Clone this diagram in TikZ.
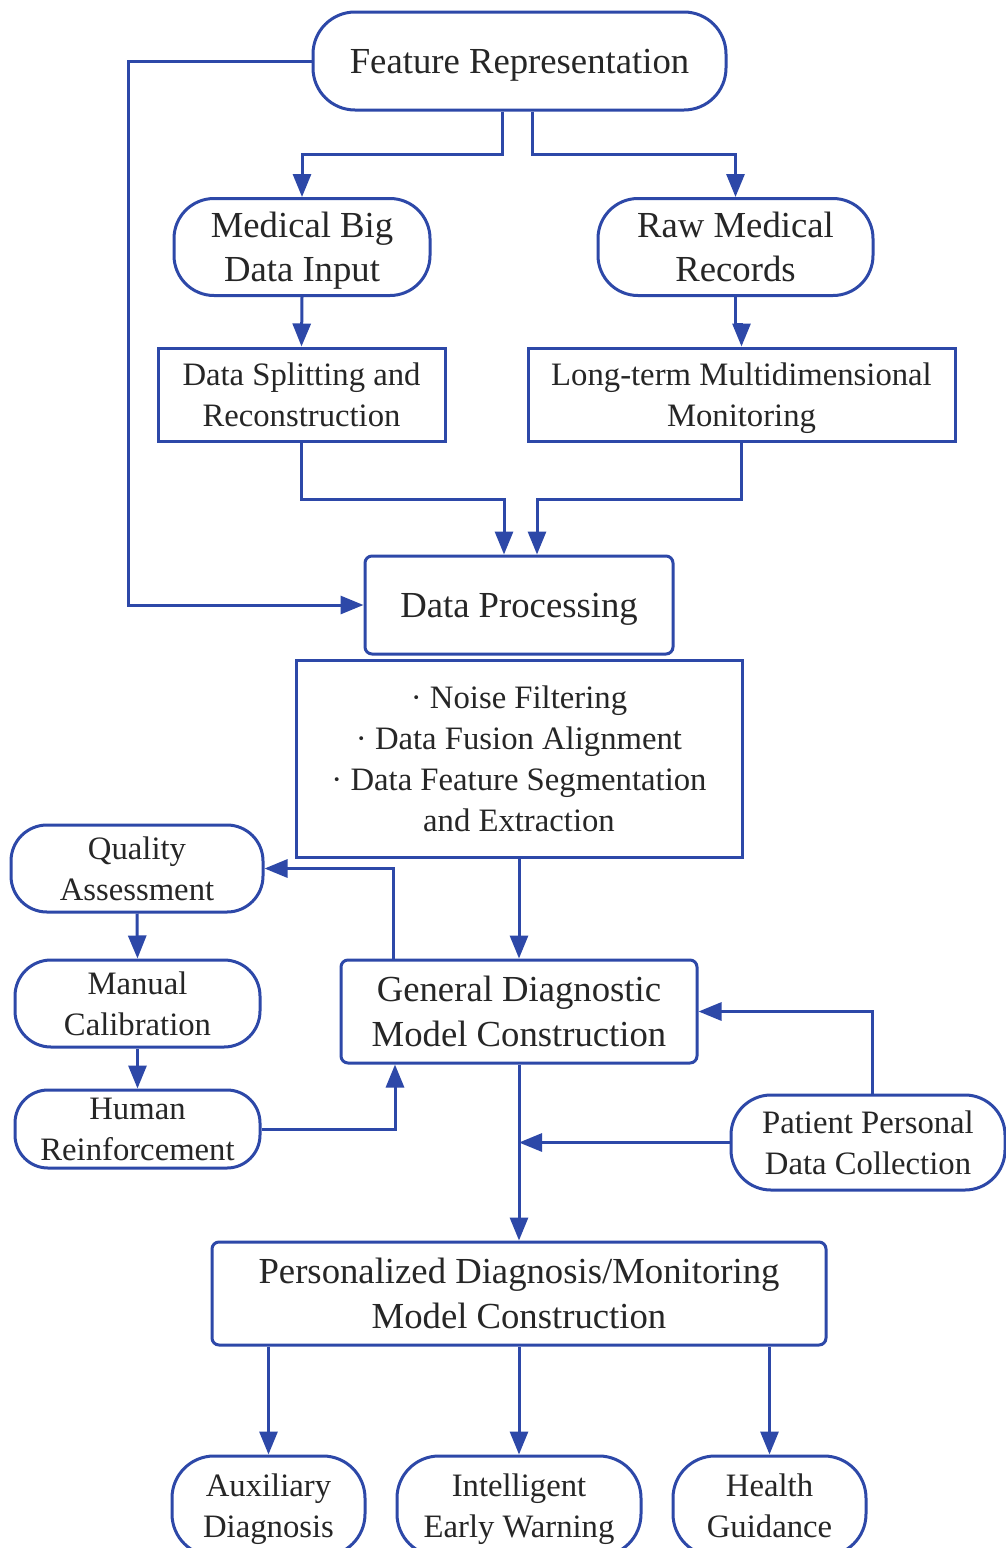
\documentclass[tikz,border=0pt]{standalone}
\usepackage{fontspec}
\setmainfont{Liberation Serif}
\usetikzlibrary{arrows.meta}
\definecolor{lb}{RGB}{45,72,168}
\definecolor{tx}{RGB}{38,38,38}
\begin{document}
\begin{tikzpicture}[x=1pt,y=-1pt,
 base/.style={draw=lb, line width=3pt, text=tx, align=center, inner sep=0pt, fill=white, text depth=0pt},
 big/.style={font=\fontsize{36.7}{44}\selectfont},
 bigw/.style={font=\fontsize{36.7}{45.5}\selectfont},
 small/.style={font=\fontsize{32.7}{41}\selectfont},
 stad/.style={base, rounded corners=#1},
 sq/.style={base},
 rr/.style={base, rounded corners=7pt},
 conn/.style={draw=lb, line width=3pt, -{Triangle[length=23pt,width=18pt]}},
]
\useasboundingbox (0,0) rectangle (1006,1548);
\fill[white] (0,0) rectangle (1006,1548);
\clip (0,0) rectangle (1006,1548);

% nodes
\node[stad=42pt, big, minimum width=413pt, minimum height=98pt] (fr) at (519.5,61) {Feature Representation};
\node[stad=40pt, big, minimum width=256pt, minimum height=97pt] (mb) at (302,247) {Medical Big\\Data Input};
\node[stad=40pt, big, minimum width=275pt, minimum height=97pt] (rmr) at (735.5,247) {Raw Medical\\Records};
\node[sq, small, minimum width=287pt, minimum height=93pt] (ds) at (301.5,394.5) {Data Splitting and\\Reconstruction};
\node[sq, small, minimum width=427pt, minimum height=93pt] (ltm) at (741.5,394.5) {Long-term Multidimensional\\Monitoring};
\node[rr, big, minimum width=308pt, minimum height=98pt] (dp) at (519,605) {Data Processing};
\node[sq, small, minimum width=446pt, minimum height=197pt] (nf) at (519,758.5) {· Noise Filtering\\· Data Fusion Alignment\\· Data Feature Segmentation\\and Extraction};
\node[rr, bigw, minimum width=356pt, minimum height=103pt] (gd) at (519,1011.5) {General Diagnostic\\Model Construction};
\node[stad=36pt, small, minimum width=252pt, minimum height=87pt] (qa) at (137,868.5) {Quality\\Assessment};
\node[stad=36pt, small, minimum width=245pt, minimum height=87pt] (mc) at (137.5,1003.5) {Manual\\Calibration};
\node[stad=33pt, small, minimum width=245pt, minimum height=78pt] (hr) at (137.5,1129) {Human\\Reinforcement};
\node[stad=40pt, small, minimum width=274pt, minimum height=95pt] (pp) at (868,1142.5) {Patient Personal\\Data Collection};
\node[rr, bigw, minimum width=614pt, minimum height=103pt] (pdm) at (519,1293.5) {Personalized Diagnosis/Monitoring\\Model Construction};
\node[stad=42pt, small, minimum width=193pt, minimum height=100pt] (aux) at (268.5,1506) {Auxiliary\\Diagnosis};
\node[stad=42pt, small, minimum width=244pt, minimum height=100pt] (iew) at (519,1506) {Intelligent\\Early Warning};
\node[stad=42pt, small, minimum width=193pt, minimum height=100pt] (hg) at (769.5,1506) {Health\\Guidance};

% connectors
\draw[conn] (fr.west) -- ++(-183,0) |- (dp.west);
\draw[conn] ([xshift=-17.5pt]fr.south) -- ++(0,43) -| (mb.north);
\draw[conn] ([xshift=12.5pt]fr.south) -- ++(0,43) -| (rmr.north);
\draw[conn] (mb.south) -- (ds.north);
\draw[conn] (rmr.south) -- ++(0,27) -| (ltm.north);
\draw[conn] (ds.south) -- ++(0,57) -| ([xshift=-15pt]dp.north);
\draw[conn] (ltm.south) -- ++(0,57) -| ([xshift=18pt]dp.north);
\draw[conn] (nf.south) -- (gd.north);
\draw[conn] ([xshift=-126pt]gd.north) |- (qa.east);
\draw[conn] (qa.south) -- (mc.north);
\draw[conn] (mc.south) -- (hr.north);
\draw[conn] (hr.east) -| ([xshift=-124pt]gd.south);
\draw[conn] ([xshift=4pt]pp.north) |- (gd.east);
\draw[conn] (gd.south) -- (pdm.north);
\draw[conn] (pp.west) -- (pp.west -| gd.south);
\draw[conn] (pdm.south -| aux.north) -- (aux.north);
\draw[conn] (pdm.south) -- (iew.north);
\draw[conn] (pdm.south -| hg.north) -- (hg.north);
\end{tikzpicture}
\end{document}
